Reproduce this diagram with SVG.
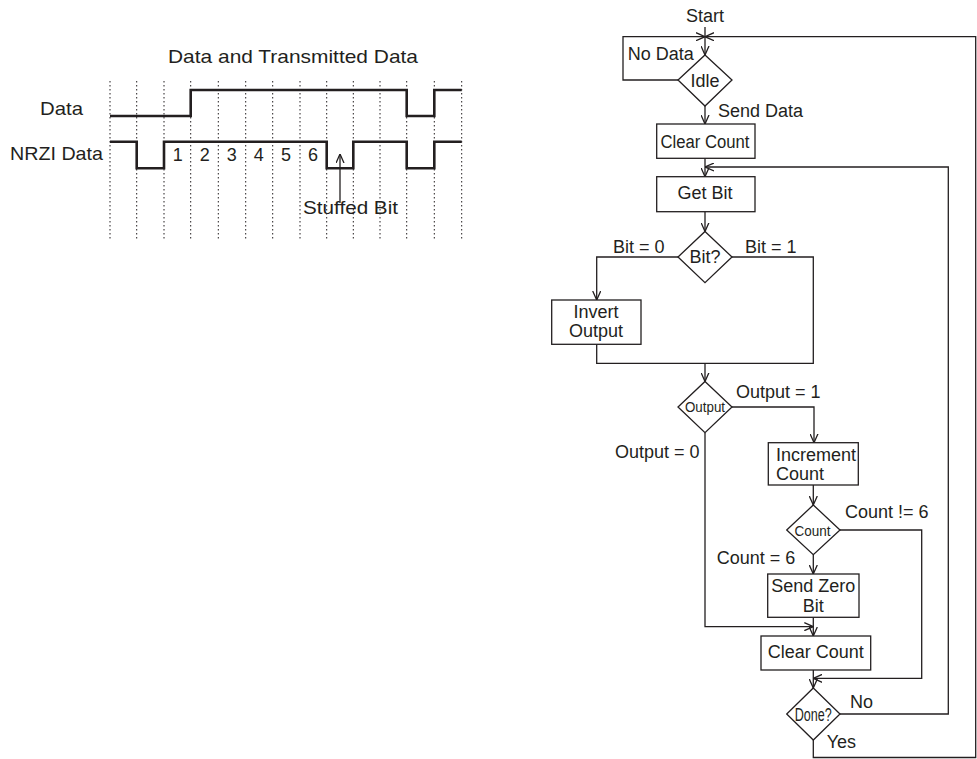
<svg xmlns="http://www.w3.org/2000/svg" width="977" height="759" viewBox="0 0 977 759">
<style>
text{font-family:"Liberation Sans",Arial,sans-serif;font-size:18px;fill:#231f20}
.sm{font-size:15px}
.lt{font-size:19px}
.dg{font-size:18px}
.c{text-anchor:middle}
.ln{fill:none;stroke:#231f20;stroke-width:1.3}
.box{fill:#fff;stroke:#231f20;stroke-width:1.3}
.dot{fill:none;stroke:#231f20;stroke-width:1;stroke-dasharray:1.5 2.5}
.sig{fill:none;stroke:#231f20;stroke-width:2.6}
.arr{marker-end:url(#ah)}
</style>
<defs>
<marker id="ah" viewBox="0 0 9 9" refX="9" refY="4.5" markerWidth="9" markerHeight="9" markerUnits="userSpaceOnUse" orient="auto">
<path d="M0,0.5 L9,4.5 L0,8.5" fill="none" stroke="#231f20" stroke-width="1.3"/>
</marker>
</defs>
<rect width="977" height="759" fill="#fff"/>

<g id="timing">
<text class="lt" x="168" y="63" textLength="250" lengthAdjust="spacingAndGlyphs">Data and Transmitted Data</text>
<g id="gridlines">
<path class="dot" d="M110,81V240M136.7,81V240M164,81V240M190.7,81V240M218.3,81V240M245.7,81V240M272.7,81V240M300,81V240M326.7,81V240M353.3,81V240M380,81V240M406.7,81V240M434.3,81V240M461.7,81V240"/>
</g>
<text class="lt" x="40" y="115" textLength="43" lengthAdjust="spacingAndGlyphs">Data</text>
<text class="lt" x="10" y="160" textLength="93" lengthAdjust="spacingAndGlyphs">NRZI Data</text>
<path class="sig" d="M110,116H190.7V90H406.7V116H434.3V90H461.7"/>
<path class="sig" d="M110,141.7H136.7V168.3H164V141.7H326.7V168.3H353.3V141.7H406.7V168.3H434.3V141.7H461.7"/>
<text class="c dg" x="177.7" y="160.5">1</text>
<text class="c dg" x="204.7" y="160.5">2</text>
<text class="c dg" x="231.8" y="160.5">3</text>
<text class="c dg" x="258.8" y="160.5">4</text>
<text class="c dg" x="285.9" y="160.5">5</text>
<text class="c dg" x="312.9" y="160.5">6</text>
<path class="ln arr" d="M340,203V154"/>
<text class="lt" x="303" y="214" textLength="95" lengthAdjust="spacingAndGlyphs">Stuffed Bit</text>
</g>

<g id="connectors">
<path class="ln arr" d="M705,27V55"/>
<path class="ln arr" d="M678,80H623V36.7H705"/>
<path class="ln arr" d="M813.3,740V757.5H975.7V36.7H705"/>
<path class="ln arr" d="M705,106V124"/>
<path class="ln arr" d="M705,158.3V176.7"/>
<path class="ln arr" d="M840,714H948.3V167H705"/>
<path class="ln arr" d="M705,211.7V231.5"/>
<path class="ln arr" d="M678,257H596.7V300"/>
<path class="ln" d="M596.7,344.3V363.3H813.3V257H732"/>
<path class="ln arr" d="M705,363.3V381.5"/>
<path class="ln arr" d="M732,407H814V442.7"/>
<path class="ln arr" d="M813.3,485V505"/>
<path class="ln arr" d="M840,530H921.7V678.3H813.3"/>
<path class="ln arr" d="M813.3,554.7V574"/>
<path class="ln arr" d="M705,433V626.7H813.3"/>
<path class="ln arr" d="M813.3,617.3V636"/>
<path class="ln arr" d="M813.3,670V688"/>
</g>

<g id="labels">
<text class="c" x="705" y="22">Start</text>
<text x="627.7" y="60">No Data</text>
<text x="718" y="117">Send Data</text>
<text x="613" y="253.3">Bit = 0</text>
<text x="745" y="253.3">Bit = 1</text>
<text x="736" y="398">Output = 1</text>
<text x="615" y="458.3">Output = 0</text>
<text x="845" y="518.3">Count != 6</text>
<text x="716.7" y="564">Count = 6</text>
<text x="850" y="708.3">No</text>
<text x="826.7" y="747.5">Yes</text>
</g>

<g id="idle">
<polygon class="box" points="705,55 732,80 705,106 678,80"/>
<text class="c" x="705" y="86.5">Idle</text>
</g>
<g id="clear-count-1">
<rect class="box" x="656.7" y="124" width="98.3" height="34.3"/>
<text class="c" x="705" y="148" textLength="89" lengthAdjust="spacingAndGlyphs">Clear Count</text>
</g>
<g id="get-bit">
<rect class="box" x="656.7" y="176.7" width="98.3" height="35"/>
<text class="c" x="705" y="199">Get Bit</text>
</g>
<g id="bit">
<polygon class="box" points="705,231.5 732,257 705,282.7 678,257"/>
<text class="c" x="705" y="263">Bit?</text>
</g>
<g id="invert-output">
<rect class="box" x="551.7" y="300" width="89.3" height="44.3"/>
<text class="c" x="596" y="318.3">Invert</text>
<text class="c" x="596" y="337">Output</text>
</g>
<g id="output">
<polygon class="box" points="705,381.5 732,407 705,432.7 678,407"/>
<text class="c sm" x="705" y="412" textLength="40" lengthAdjust="spacingAndGlyphs">Output</text>
</g>
<g id="increment-count">
<rect class="box" x="768.3" y="442.7" width="90" height="42.3"/>
<text x="776" y="461">Increment</text>
<text x="776" y="480">Count</text>
</g>
<g id="count">
<polygon class="box" points="813.3,505 840,530 813.3,554.7 786.7,530"/>
<text class="c sm" x="812.5" y="535.5" textLength="36" lengthAdjust="spacingAndGlyphs">Count</text>
</g>
<g id="send-zero-bit">
<rect class="box" x="767.7" y="574" width="91.3" height="43.3"/>
<text class="c" x="813.3" y="591.7">Send Zero</text>
<text class="c" x="813.3" y="612">Bit</text>
</g>
<g id="clear-count-2">
<rect class="box" x="761" y="636" width="109.7" height="34"/>
<text class="c" x="815.8" y="658.3">Clear Count</text>
</g>
<g id="done">
<polygon class="box" points="813.3,688 840,714 813.3,740 786.7,714"/>
<text class="c" x="813.3" y="721" textLength="37" lengthAdjust="spacingAndGlyphs">Done?</text>
</g>
</svg>
